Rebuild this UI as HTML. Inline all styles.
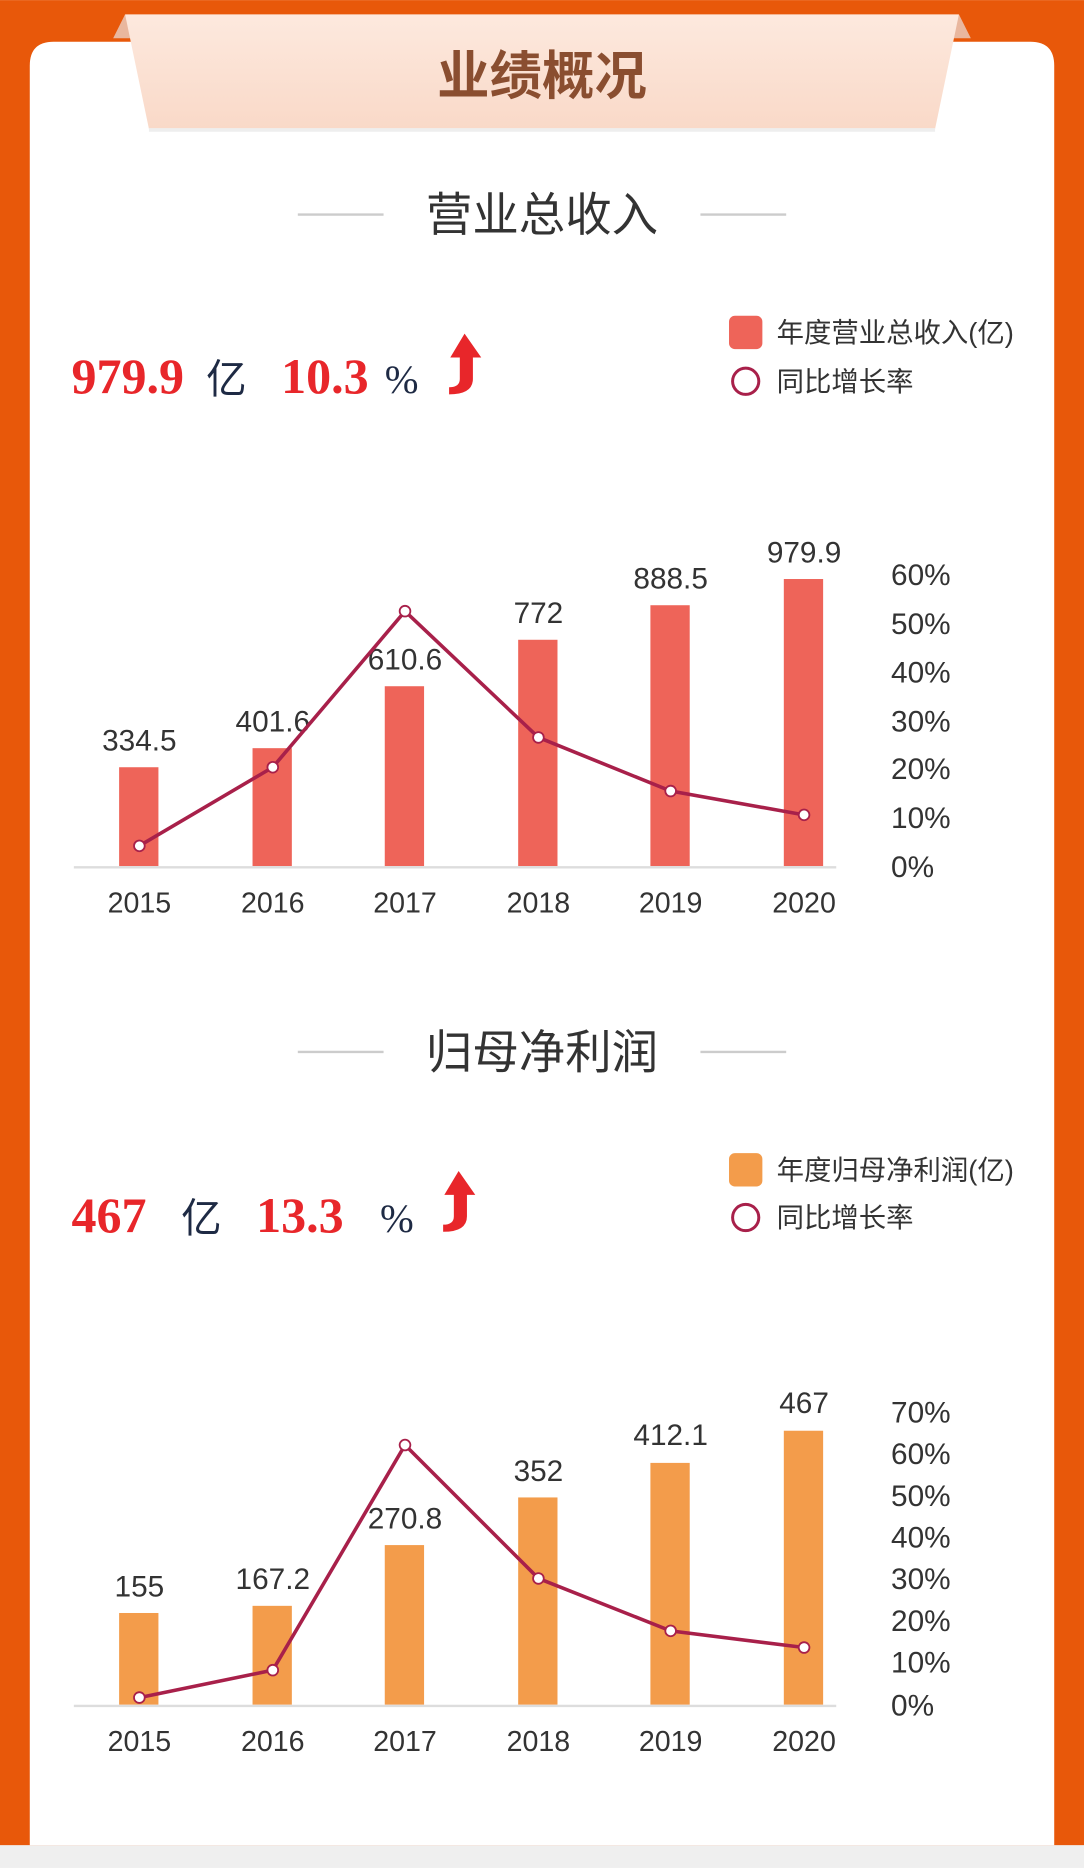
<!DOCTYPE html>
<html><head><meta charset="utf-8"><style>
html,body{margin:0;padding:0;background:#fff;}
svg{display:block;}
text{font-family:"Liberation Sans","Noto Sans CJK SC",sans-serif;}
.s{font-family:"Liberation Serif","Noto Serif CJK SC",serif;}
</style></head><body>
<svg width="1084" height="1868" viewBox="0 0 910 1568" xmlns="http://www.w3.org/2000/svg">
<defs>
<linearGradient id="bn" x1="0" y1="0" x2="0" y2="1"><stop offset="0" stop-color="#FDE9DE"/><stop offset="1" stop-color="#F9D9C8"/></linearGradient>
</defs>
<rect x="0" y="0" width="910" height="1549" fill="#E8580A"/>
<rect x="0" y="1549" width="910" height="19" fill="#EFEFEF"/>
<path d="M25 1549 V55 Q25 35 45 35 H865 Q885 35 885 55 V1549 Z" fill="#fff"/>
<polygon points="95,32 105,12 115,32" fill="#E9B79E"/>
<polygon points="815,32 805,12 795,32" fill="#E9B79E"/>
<polygon points="105,12 805,12 785,108 125,108" fill="url(#bn)"/>
<line x1="125" y1="109" x2="785" y2="109" stroke="#eee" stroke-width="3"/>
<text x="455" y="79" text-anchor="middle" font-size="44" font-weight="bold" fill="#8A4E30">业绩概况</text>

<!-- Section 1 -->
<line x1="250" y1="180" x2="322" y2="180" stroke="#ccc" stroke-width="2"/>
<line x1="588" y1="180" x2="660" y2="180" stroke="#ccc" stroke-width="2"/>
<text x="455" y="194" text-anchor="middle" font-size="39" fill="#333">营业总收入</text>
<text x="60" y="330" class="s" font-size="42" font-weight="bold" fill="#E8262A">979.9</text>
<text x="173" y="330" font-size="34" fill="#1E2A44">亿</text>
<text x="236" y="330" class="s" font-size="42" font-weight="bold" fill="#E8262A">10.3</text>
<text x="323" y="330" class="s" font-size="34" fill="#1E2A44">%</text>
<path d="M390 280 L378 300 H386 V318 Q386 325 377 325 V331 Q397 331 397 318 V300 H404 Z" fill="#E8262A"/>
<rect x="612" y="265" width="28" height="28" rx="5" fill="#EE6459"/>
<text x="652" y="287" font-size="23" fill="#333">年度营业总收入(亿)</text>
<circle cx="626" cy="320" r="11" fill="#fff" stroke="#A8204A" stroke-width="2.5"/>
<text x="652" y="328" font-size="23" fill="#333">同比增长率</text>

<g fill="#EE6459">
<rect x="100" y="644" width="33" height="83"/>
<rect x="212" y="628" width="33" height="99"/>
<rect x="323" y="576" width="33" height="151"/>
<rect x="435" y="537" width="33" height="190"/>
<rect x="546" y="508" width="33" height="219"/>
<rect x="658" y="486" width="33" height="241"/>
</g>
<line x1="62" y1="728" x2="702" y2="728" stroke="#ddd" stroke-width="2"/>
<g font-size="25" fill="#333" text-anchor="middle">
<text x="117" y="630">334.5</text><text x="229" y="614">401.6</text><text x="340" y="562">610.6</text>
<text x="452" y="523">772</text><text x="563" y="494">888.5</text><text x="675" y="472">979.9</text>
</g>
<g font-size="24" fill="#333" text-anchor="middle">
<text x="117" y="766">2015</text><text x="229" y="766">2016</text><text x="340" y="766">2017</text>
<text x="452" y="766">2018</text><text x="563" y="766">2019</text><text x="675" y="766">2020</text>
</g>
<g font-size="25" fill="#333">
<text x="748" y="491">60%</text><text x="748" y="532">50%</text><text x="748" y="573">40%</text>
<text x="748" y="614">30%</text><text x="748" y="654">20%</text><text x="748" y="695">10%</text><text x="748" y="736">0%</text>
</g>
<polyline points="117,710 229,644 340,513 452,619 563,664 675,684" fill="none" stroke="#A8204A" stroke-width="3"/>
<g fill="#fff" stroke="#A8204A" stroke-width="1.5">
<circle cx="117" cy="710" r="4.5"/><circle cx="229" cy="644" r="4.5"/><circle cx="340" cy="513" r="4.5"/>
<circle cx="452" cy="619" r="4.5"/><circle cx="563" cy="664" r="4.5"/><circle cx="675" cy="684" r="4.5"/>
</g>

<!-- Section 2 -->
<line x1="250" y1="883" x2="322" y2="883" stroke="#ccc" stroke-width="2"/>
<line x1="588" y1="883" x2="660" y2="883" stroke="#ccc" stroke-width="2"/>
<text x="455" y="897" text-anchor="middle" font-size="39" fill="#333">归母净利润</text>
<text x="60" y="1034" class="s" font-size="42" font-weight="bold" fill="#E8262A">467</text>
<text x="152" y="1034" font-size="34" fill="#1E2A44">亿</text>
<text x="215" y="1034" class="s" font-size="42" font-weight="bold" fill="#E8262A">13.3</text>
<text x="319" y="1034" class="s" font-size="34" fill="#1E2A44">%</text>
<path d="M385 983 L373 1003 H381 V1021 Q381 1028 372 1028 V1034 Q392 1034 392 1021 V1003 H399 Z" fill="#E8262A"/>
<rect x="612" y="968" width="28" height="28" rx="5" fill="#F39C4B"/>
<text x="652" y="990" font-size="23" fill="#333">年度归母净利润(亿)</text>
<circle cx="626" cy="1022" r="11" fill="#fff" stroke="#A8204A" stroke-width="2.5"/>
<text x="652" y="1030" font-size="23" fill="#333">同比增长率</text>

<g fill="#F39C4B">
<rect x="100" y="1354" width="33" height="77"/>
<rect x="212" y="1348" width="33" height="83"/>
<rect x="323" y="1297" width="33" height="134"/>
<rect x="435" y="1257" width="33" height="174"/>
<rect x="546" y="1228" width="33" height="203"/>
<rect x="658" y="1201" width="33" height="230"/>
</g>
<line x1="62" y1="1432" x2="702" y2="1432" stroke="#ddd" stroke-width="2"/>
<g font-size="25" fill="#333" text-anchor="middle">
<text x="117" y="1340">155</text><text x="229" y="1334">167.2</text><text x="340" y="1283">270.8</text>
<text x="452" y="1243">352</text><text x="563" y="1213">412.1</text><text x="675" y="1186">467</text>
</g>
<g font-size="24" fill="#333" text-anchor="middle">
<text x="117" y="1470">2015</text><text x="229" y="1470">2016</text><text x="340" y="1470">2017</text>
<text x="452" y="1470">2018</text><text x="563" y="1470">2019</text><text x="675" y="1470">2020</text>
</g>
<g font-size="25" fill="#333">
<text x="748" y="1194">70%</text><text x="748" y="1229">60%</text><text x="748" y="1264">50%</text>
<text x="748" y="1299">40%</text><text x="748" y="1334">30%</text><text x="748" y="1369">20%</text>
<text x="748" y="1404">10%</text><text x="748" y="1440">0%</text>
</g>
<polyline points="117,1425 229,1402 340,1213 452,1325 563,1369 675,1383" fill="none" stroke="#A8204A" stroke-width="3"/>
<g fill="#fff" stroke="#A8204A" stroke-width="1.5">
<circle cx="117" cy="1425" r="4.5"/><circle cx="229" cy="1402" r="4.5"/><circle cx="340" cy="1213" r="4.5"/>
<circle cx="452" cy="1325" r="4.5"/><circle cx="563" cy="1369" r="4.5"/><circle cx="675" cy="1383" r="4.5"/>
</g>
</svg>
</body></html>
